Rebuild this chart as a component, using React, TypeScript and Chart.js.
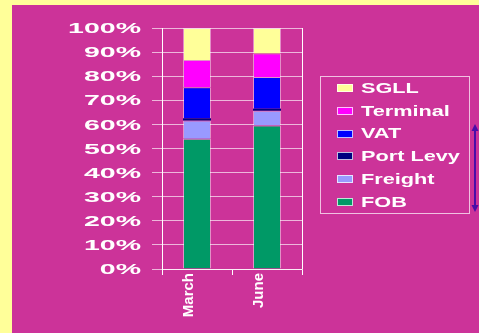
import React, { useEffect, useRef } from "react";
import { Chart, registerables } from "chart.js";

Chart.register(...registerables);

const categories = ["March", "June"];
const seriesNames = ["FOB", "Freight", "Port Levy", "VAT", "Terminal", "SGLL"];
const fob = [54, 59.5];
const freight = [7.6, 6.2];
const portLevy = [0.9, 0.8];
const vat = [12.9, 13.2];
const terminal = [11.3, 9.7];
const sgll = [13.3, 10.6];
const seriesValues = [fob, freight, portLevy, vat, terminal, sgll];
const seriesColors = ["#009966", "#9999FF", "#000080", "#0000FF", "#FF00FF", "#FFFF99"];
const yMin = 0;
const yMax = 100;
const yStep = 10;

const FONT = "'Liberation Sans', Arial, sans-serif";

const overlayPlugin = {
  id: "overlay",
  afterDraw(chart: any) {
    const ctx = chart.ctx;
    const area = chart.chartArea;
    const ys = chart.scales.y;
    ctx.save();
    // right frame line
    ctx.strokeStyle = "#ffffff";
    ctx.lineWidth = 1;
    ctx.beginPath();
    ctx.moveTo(Math.round(area.right) + 0.5, area.top);
    ctx.lineTo(Math.round(area.right) + 0.5, area.bottom);
    ctx.stroke();

    // y tick labels (horizontally stretched, as in the reference)
    ctx.fillStyle = "#ffffff";
    ctx.font = `bold 15px ${FONT}`;
    ctx.textAlign = "right";
    ctx.textBaseline = "middle";
    ys.ticks.forEach((t: any) => {
      const y = ys.getPixelForValue(t.value);
      ctx.save();
      ctx.translate(area.left - 21, y + 1);
      ctx.scale(1.9, 1);
      ctx.fillText(`${t.value}%`, 0, 0);
      ctx.restore();
    });

    // legend box
    const lx = 320, ly = 76, lw = 149, lh = 137;
    ctx.strokeStyle = "rgba(255,255,255,0.7)";
    ctx.strokeRect(lx + 0.5, ly + 0.5, lw, lh);
    const ds = chart.data.datasets.slice().reverse();
    ctx.font = `bold 14px ${FONT}`;
    ctx.textAlign = "left";
    ds.forEach((d: any, i: number) => {
      const cy = 88 + i * 22.8;
      ctx.fillStyle = d.backgroundColor;
      ctx.fillRect(337, Math.round(cy - 4), 16, 8);
      ctx.strokeStyle = "rgba(255,255,255,0.75)";
      ctx.strokeRect(337.5, Math.round(cy - 4) + 0.5, 15, 7);
      ctx.fillStyle = "#ffffff";
      ctx.save();
      ctx.translate(361, cy + 1);
      ctx.scale(1.55, 1);
      ctx.fillText(d.label, 0, 0);
      ctx.restore();
    });

    // double-headed arrow
    const ax = 475, ay1 = 124, ay2 = 212;
    ctx.strokeStyle = "#4A0DA8";
    ctx.fillStyle = "#4A0DA8";
    ctx.lineWidth = 2;
    ctx.beginPath();
    ctx.moveTo(ax, ay1 + 5);
    ctx.lineTo(ax, ay2 - 5);
    ctx.stroke();
    ctx.beginPath();
    ctx.moveTo(ax, ay1);
    ctx.lineTo(ax - 3.5, ay1 + 7);
    ctx.lineTo(ax + 3.5, ay1 + 7);
    ctx.closePath();
    ctx.fill();
    ctx.beginPath();
    ctx.moveTo(ax, ay2);
    ctx.lineTo(ax - 3.5, ay2 - 7);
    ctx.lineTo(ax + 3.5, ay2 - 7);
    ctx.closePath();
    ctx.fill();
    ctx.restore();
  },
};

export default function App() {
  const ref = useRef<HTMLCanvasElement | null>(null);
  useEffect(() => {
    if (!ref.current) return;
    const chart = new Chart(ref.current, {
      type: "bar",
      data: {
        labels: categories,
        datasets: seriesNames.map((name, i) => ({
          label: name,
          data: seriesValues[i],
          backgroundColor: seriesColors[i],
          borderColor: "rgba(255,255,255,0.45)",
          borderWidth: name === "Port Levy" ? 0 : 1,
          barPercentage: 0.4,
          categoryPercentage: 1,
        })),
      },
      options: {
        responsive: false,
        maintainAspectRatio: false,
        animation: false,
        layout: { padding: { left: 0, right: 177, top: 28, bottom: 0 } },
        plugins: { legend: { display: false }, tooltip: { enabled: false } },
        scales: {
          x: {
            stacked: true,
            offset: true,
            grid: {
              display: true,
              drawOnChartArea: false,
              drawTicks: true,
              tickLength: 6,
              color: "#ffffff",
              offset: true,
            },
            border: { display: true, color: "rgba(255,255,255,0.75)" },
            ticks: {
              color: "#ffffff",
              font: { family: FONT, size: 15, weight: "bold" },
              minRotation: 90,
              maxRotation: 90,
              padding: -2,
              labelOffset: -8,
              autoSkip: false,
            },
            afterFit: (s: any) => {
              s.height = 64;
            },
          },
          y: {
            stacked: true,
            min: yMin,
            max: yMax,
            grid: {
              color: "rgba(255,255,255,0.65)",
              tickLength: 10,
              drawTicks: true,
            },
            border: { display: true, color: "#ffffff" },
            ticks: { stepSize: yStep, display: false },
            afterFit: (s: any) => {
              s.width = 162;
            },
          },
        },
      },
      plugins: [overlayPlugin],
    });
    return () => chart.destroy();
  }, []);
  return (
    <div style={{ position: "absolute", left: 0, top: 0, width: 479, height: 333, background: "#FFFF99", overflow: "hidden" }}>
      <div style={{ position: "absolute", left: 12, top: 5, right: 0, bottom: 0, background: "#CC3399" }} />
      <canvas ref={ref} width={479} height={333} style={{ position: "absolute", left: 0, top: 0, width: 479, height: 333 }} />
    </div>
  );
}
